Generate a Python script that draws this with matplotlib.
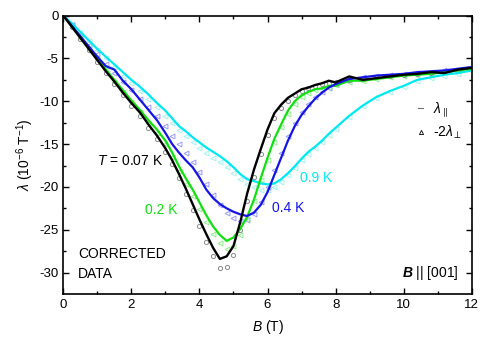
import matplotlib
matplotlib.use("Agg")
import matplotlib.pyplot as plt
from matplotlib.lines import Line2D

plt.rcParams['font.family'] = ['Liberation Sans', 'DejaVu Sans']
plt.rcParams['mathtext.fontset'] = 'custom'
plt.rcParams['mathtext.rm'] = 'Liberation Sans'
plt.rcParams['mathtext.it'] = 'Liberation Sans:italic'
plt.rcParams['mathtext.bf'] = 'Liberation Sans:bold:italic'
plt.rcParams['axes.unicode_minus'] = False

# field grid (T)
B = [0, 0.25, 0.5, 0.75, 1.0, 1.25, 1.5, 1.75, 2.0, 2.25, 2.5, 2.75, 3.0,
     3.2, 3.4, 3.6, 3.8, 4.0, 4.2, 4.4, 4.6, 4.8, 5.0, 5.2, 5.4, 5.6, 5.8,
     6.0, 6.2, 6.4, 6.6, 6.8, 7.0, 7.2, 7.4, 7.6, 7.8, 8.0,
     8.4, 8.8, 9.2, 9.6, 10.0, 10.4, 10.8, 11.2, 11.6, 12.0]

# lambda_par (lines) and -2 lambda_perp (markers), 1e-6 / T
par_007 = [0, -1.3, -2.6, -3.9, -5.2, -6.5, -7.7, -9.0, -10.2, -11.3, -12.7, -14.0, -15.5,
           -16.9, -18.5, -20.2, -22.0, -23.8, -25.5, -27.1, -28.4, -28.1, -26.9, -24.1, -20.8,
           -18.0, -15.6, -13.3, -11.4, -10.4, -9.6, -9.1, -8.6, -8.4, -8.1, -7.9, -7.6, -7.8,
           -7.1, -7.5, -7.3, -7.1, -6.9, -6.8, -6.6, -6.7, -6.3, -6.1]
perp_007 = [0, -1.3, -2.7, -4.0, -5.4, -6.7, -8.0, -9.3, -10.5, -11.7, -13.1, -14.4, -15.9,
            -17.3, -19.0, -20.8, -22.7, -24.6, -26.4, -28.1, -29.5, -29.4, -27.9, -25.0, -21.7,
            -18.8, -16.2, -13.9, -12.0, -10.8, -10.0, -9.3, -8.8, -8.5, -8.2, -8.0, -7.9, -7.7,
            -7.5, -7.4, -7.2, -7.0, -6.9, -6.8, -6.7, -6.6, -6.4, -6.2]

par_02 = [0, -1.2, -2.5, -3.8, -5.0, -6.3, -7.5, -8.7, -9.9, -11.0, -12.2, -13.3, -14.6,
          -16.0, -17.6, -19.0, -20.3, -21.8, -23.3, -24.6, -25.6, -26.3, -25.9, -24.9, -23.5,
          -21.5, -19.0, -16.6, -14.4, -12.7, -11.1, -10.0, -9.3, -8.9, -8.6, -8.5, -8.2, -8.2,
          -7.6, -7.6, -7.4, -7.2, -7.0, -6.9, -6.8, -6.6, -6.4, -6.2]
perp_02 = [0, -1.3, -2.6, -3.9, -5.1, -6.4, -7.7, -8.9, -10.1, -11.3, -12.5, -13.7, -15.0,
           -16.5, -18.1, -19.6, -21.0, -22.6, -24.1, -25.5, -26.6, -27.3, -26.9, -25.6, -23.8,
           -21.6, -19.2, -16.9, -14.8, -13.0, -11.5, -10.3, -9.5, -9.0, -8.7, -8.5, -8.3, -8.1,
           -7.8, -7.6, -7.4, -7.2, -7.0, -6.9, -6.8, -6.6, -6.5, -6.3]

par_04 = [0, -1.2, -2.4, -3.6, -4.8, -5.9, -6.3, -7.6, -8.6, -9.8, -11.0, -12.2, -13.7,
          -15.0, -16.0, -16.9, -17.7, -18.9, -20.3, -21.3, -22.0, -22.5, -22.9, -23.2, -23.4,
          -23.0, -22.1, -20.6, -18.6, -16.6, -14.6, -12.9, -11.6, -10.6, -9.7, -9.0, -8.4, -8.0,
          -7.4, -7.2, -7.0, -6.9, -6.8, -6.6, -6.5, -6.4, -6.2, -6.0]
perp_04 = [0, -1.1, -2.3, -3.4, -4.5, -5.6, -6.7, -7.7, -8.7, -9.7, -10.7, -11.7, -12.9,
           -14.0, -15.0, -16.0, -17.1, -18.3, -19.6, -20.9, -22.1, -23.0, -23.6, -24.0, -23.9,
           -23.2, -21.8, -20.0, -18.0, -16.0, -14.1, -12.5, -11.3, -10.3, -9.5, -8.9, -8.4, -8.0,
           -7.5, -7.2, -7.1, -6.9, -6.8, -6.7, -6.6, -6.4, -6.3, -6.1]

par_09 = [0, -0.9, -1.9, -2.9, -3.9, -4.8, -5.7, -6.6, -7.5, -8.3, -9.2, -10.2, -11.1,
          -12.0, -12.9, -13.5, -14.2, -14.8, -15.4, -15.9, -16.4, -17.0, -17.7, -18.5, -19.1,
          -19.3, -19.6, -19.7, -19.6, -19.1, -18.4, -17.6, -16.7, -15.9, -15.3, -14.6, -13.8, -13.1,
          -11.7, -10.5, -9.5, -8.8, -8.2, -7.5, -7.2, -6.9, -6.7, -6.4]
perp_09 = [0, -1.0, -2.0, -3.0, -4.0, -5.0, -6.0, -7.0, -7.9, -8.8, -9.7, -10.7, -11.7,
           -12.5, -13.4, -14.1, -14.8, -15.4, -16.0, -16.6, -17.1, -17.7, -18.4, -19.1, -19.7,
           -20.0, -20.3, -20.3, -20.0, -19.4, -18.6, -17.8, -16.9, -16.1, -15.4, -14.7, -13.9, -13.2,
           -11.8, -10.6, -9.6, -8.9, -8.3, -7.6, -7.3, -7.0, -6.8, -6.5]

fig = plt.figure(figsize=(4.9, 3.47), dpi=100)
ax = fig.add_axes([0.1292, 0.1527, 0.8335, 0.8023])

# -2 lambda_perp as open markers underneath
ax.plot(B, perp_09, ls='none', marker='<', ms=3.5, mfc='none', mec='#a8f0f0', mew=0.7)
ax.plot(B, perp_04, ls='none', marker='<', ms=3.5, mfc='none', mec='#9a9aff', mew=0.7)
ax.plot(B, perp_02, ls='none', marker='<', ms=3.5, mfc='none', mec='#90ee90', mew=0.7)
ax.plot(B, perp_007, ls='none', marker='o', ms=3, mfc='none', mec='#8c8c8c', mew=0.7)

# lambda_par as lines
ax.plot(B, par_09, color='#00e8f0', lw=1.6)
ax.plot(B, par_02, color='#10e010', lw=1.6)
ax.plot(B, par_04, color='#1414e6', lw=1.6)
ax.plot(B, par_007, color='black', lw=1.7)

ax.set_xlim(0, 12)
ax.set_ylim(-32.5, 0)
ax.set_xticks([0, 2, 4, 6, 8, 10, 12])
ax.set_xticks([1, 3, 5, 7, 9, 11], minor=True)
ax.set_yticks([0, -5, -10, -15, -20, -25, -30])
ax.set_yticks([-2.5, -7.5, -12.5, -17.5, -22.5, -27.5], minor=True)
ax.tick_params(which='both', direction='in', top=True, right=True, labelsize=9.5,
               width=1.0, colors='black')
ax.tick_params(which='major', length=4.5)
ax.tick_params(which='minor', length=2.5)
for s in ax.spines.values():
    s.set_linewidth(1.2)

ax.set_xlabel(r'$B$ (T)', fontsize=10, labelpad=5)
ax.set_ylabel(r'$\lambda$ (10$^{-6}$ T$^{-1}$)', fontsize=10, labelpad=2)

ax.text(0.99, -17.0, r'$T$ = 0.07 K', fontsize=10, color='black', va='center')
ax.text(2.4, -22.7, '0.2 K', fontsize=10, color='#10e010', va='center')
ax.text(6.13, -22.5, '0.4 K', fontsize=10, color='#1414e6', va='center')
ax.text(6.96, -19.0, '0.9 K', fontsize=10, color='#00e8f0', va='center')
ax.text(0.43, -27.85, 'CORRECTED', fontsize=10, va='center')
ax.text(0.43, -30.2, 'DATA', fontsize=10, va='center')
ax.text(11.62, -30.0, r'$\mathbf{B}$ || [001]', fontsize=10, ha='right', va='center')

handles = [Line2D([], [], color='#707070', lw=0.8),
           Line2D([], [], ls='none', marker='^', ms=3, mfc='none', mec='black', mew=0.6)]
ax.legend(handles, [r'$\lambda_{\parallel}$', r'-2$\lambda_{\perp}$'], loc='upper right',
          bbox_to_anchor=(0.99, 0.715), frameon=False, fontsize=10,
          handlelength=0.4, handletextpad=0.7, labelspacing=0.3, borderaxespad=0)

fig.savefig('out.png', dpi=100)
